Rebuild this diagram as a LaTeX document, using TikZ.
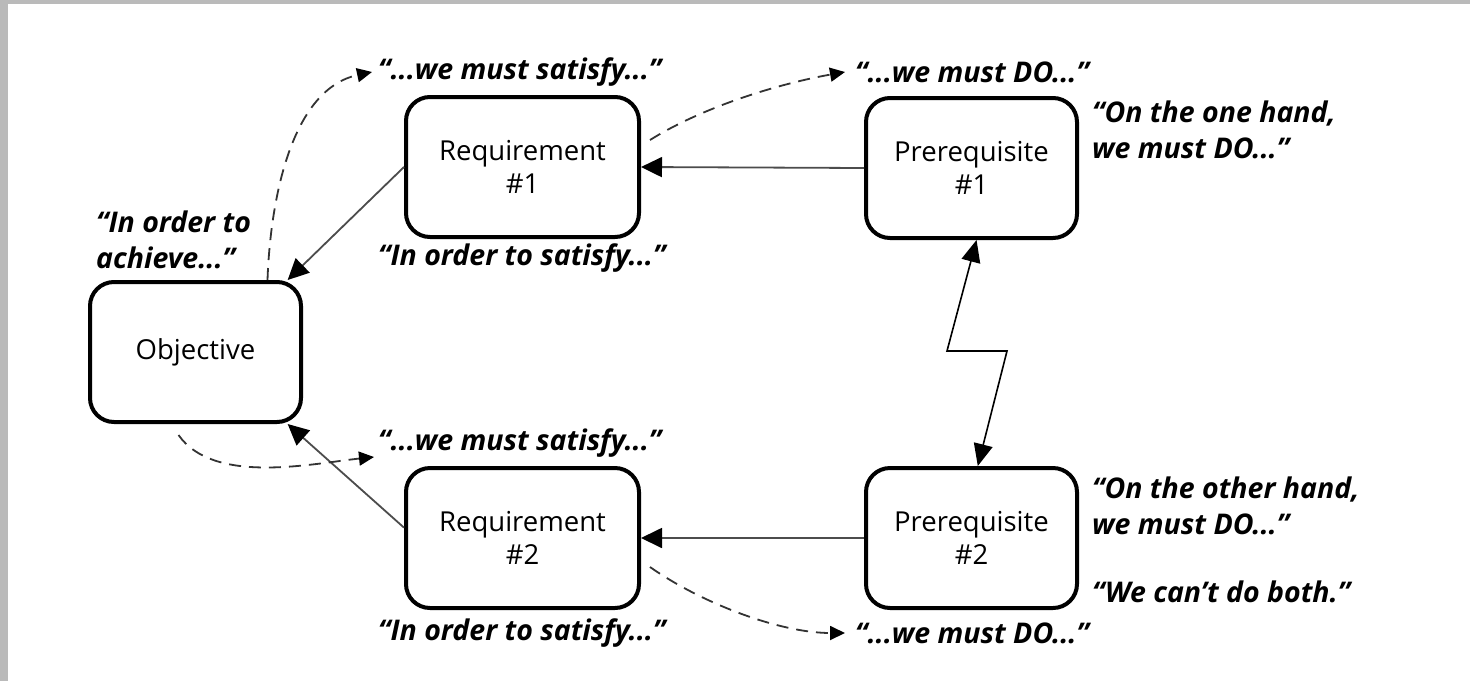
\documentclass[tikz,border=0pt]{standalone}
\usepackage{fontspec}
\setmainfont{Open Sans}
\usetikzlibrary{arrows.meta}
\begin{document}
\begin{tikzpicture}[x=1pt,y=1pt,
  box/.style={draw=black,line width=4pt,rounded corners=24pt,align=center,
    font=\fontsize{27.5}{33}\selectfont,inner sep=0pt},
  reqbox/.style={box,minimum width=233pt,minimum height=140pt},
  prebox/.style={box,minimum width=211pt,minimum height=140pt},
  quote/.style={anchor=west,align=left,inner sep=0pt,
    font=\fontsize{28.5}{36}\selectfont\bfseries\itshape},
  link/.style={draw=black!70,line width=1.8pt,
    -{Triangle[length=21pt,width=20pt,color=black,fill=black]}},
  conflict/.style={draw=black,line width=1.6pt,
    {Triangle[length=22pt,width=19pt]}-{Triangle[length=22pt,width=19pt]}},
  hint/.style={draw=black!80,line width=1.8pt,dash pattern=on 12pt off 8pt,
    -{Triangle[length=15pt,width=14pt,color=black,fill=black]}}]
  % canvas and frame edge
  \useasboundingbox (0,0) rectangle (1470,-681);
  \fill[white] (0,0) rectangle (1470,-681);
  \fill[black!27] (0,0) rectangle (8,-681);
  \fill[black!27] (0,0) rectangle (1470,-4);

  % boxes
  \node[prebox] (obj) at (195.5,-352) {Objective};
  \node[reqbox] (r1) at (522.5,-167) {Requirement\\\#1};
  \node[prebox] (p1) at (971.5,-168) {Prerequisite\\\#1};
  \node[reqbox] (r2) at (522.5,-538) {Requirement\\\#2};
  \node[prebox] (p2) at (971.5,-538) {Prerequisite\\\#2};

  % quoted phrases
  \node[quote] (q1) at (378,-72) {“...we must satisfy...”};
  \node[quote] (q2) at (855,-72) {“...we must DO...”};
  \node[quote] (q3) at (1092,-130) {“On the one hand,\\we must DO...”};
  \node[quote] (q4) at (96,-240) {“In order to\\achieve...”};
  \node[quote] (q5) at (378,-258) {“In order to satisfy...”};
  \node[quote] (q6) at (378,-443) {“...we must satisfy...”};
  \node[quote] (q7) at (1092,-506) {“On the other hand,\\we must DO...”};
  \node[quote] (q8) at (1092,-592) {“We can’t do both.”};
  \node[quote] (q9) at (378,-633) {“In order to satisfy...”};
  \node[quote] (q10) at (855,-633) {“...we must DO...”};

  % logic arrows
  \draw[link] (p1.west) -- (r1.east);
  \draw[link] (p2.west) -- (r2.east);
  \draw[link] (r1.west) -- (obj.38);
  \draw[link] (r2.175) -- (obj.-38);

  % conflict zigzag
  \coordinate (z1) at (947,-351);
  \coordinate (z2) at (1007,-351);
  \draw[conflict] (p1.-86) -- (z1) -- (z2) -- (p2.85);

  % reading hints
  \draw[hint] (obj.45) to[out=88,in=192,looseness=0.9] ([xshift=-6pt]q1.west);
  \draw[hint] ([shift={(9,27)}]r1.east) to[out=32,in=190,looseness=0.8] ([xshift=-10pt]q2.west);
  \draw[hint] ([shift={(-17,-11)}]obj.south) to[out=-55,in=186,looseness=0.8] ([shift={(-4,-14)}]q6.west);
  \draw[hint] ([shift={(9,-29)}]r2.east) to[out=-35,in=180,looseness=0.8] ([xshift=-10pt]q10.west);
\end{tikzpicture}
\end{document}
